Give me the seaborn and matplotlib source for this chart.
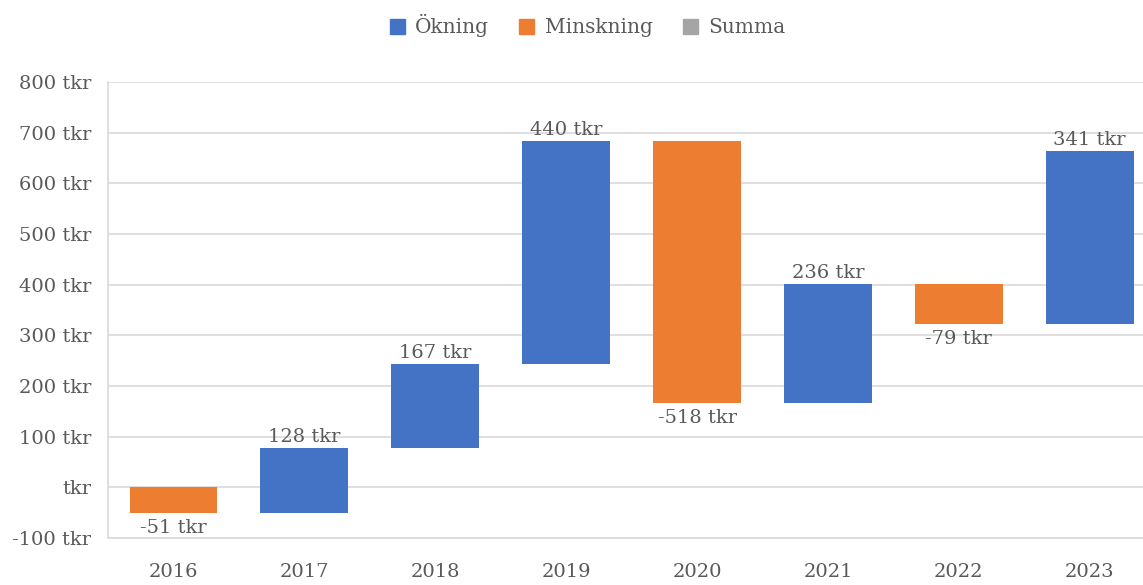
import numpy as np
import pandas as pd
import seaborn as sns
import matplotlib
matplotlib.use("Agg")
import matplotlib.pyplot as plt
from matplotlib.patches import Patch

years = ["2016", "2017", "2018", "2019", "2020", "2021", "2022", "2023"]
changes = [-51, 128, 167, 440, -518, 236, -79, 341]
y_ticks = [-100, 0, 100, 200, 300, 400, 500, 600, 700, 800]
legend_names = ["Ökning", "Minskning", "Summa"]
colors = ["#4472c4", "#ed7d31", "#a5a5a5"]

ends = np.cumsum(changes)
starts = ends - np.array(changes)
df = pd.DataFrame({"year": years, "change": changes, "start": starts, "end": ends})
df["typ"] = np.where(df.change >= 0, "up", "down")

sns.set_theme(style="white")
plt.rcParams["font.family"] = ["DejaVu Serif"]
txt = "#595959"
fs = 14

fig = plt.figure(figsize=(11.43, 5.85), dpi=100)
ax = fig.add_axes([108 / 1143, 47 / 585, 1035 / 1143, 456 / 585])

for typ, col in [("up", colors[0]), ("down", colors[1])]:
    sub = df[df.typ == typ]
    sns.barplot(x=sub.year, y=sub.change, bottom=sub.start.values, order=years,
                color=col, width=0.67, ax=ax, saturation=1, zorder=3, linewidth=0)

# labels: above the bar top for increases, below the bar for decreases
for i, r in df.iterrows():
    lab = f"{r.change} tkr"
    if r.change >= 0:
        ax.text(i, r.end + 4, lab, ha="center", va="bottom", color=txt, fontsize=fs)
    else:
        ax.text(i, r.end - 12, lab, ha="center", va="top", color=txt, fontsize=fs)

ax.set_xlim(-0.5, -0.5 + 1035 / 130.9)
ax.set_ylim(-100, 800)
ax.set_yticks(y_ticks)
ax.set_yticklabels([f"{v} tkr" if v != 0 else "tkr" for v in y_ticks])
ax.grid(axis="y", color="#d9d9d9", linewidth=1.2, zorder=0)
ax.set_axisbelow(True)
ax.set_xlabel("")
ax.set_ylabel("")
ax.tick_params(axis="both", length=0, colors=txt, labelsize=fs)
ax.tick_params(axis="y", pad=12)
ax.tick_params(axis="x", pad=18)
for s in ["top", "right"]:
    ax.spines[s].set_visible(False)
ax.spines["left"].set_color("#d9d9d9")
ax.spines["bottom"].set_color("#d9d9d9")
ax.spines["left"].set_linewidth(1.2)
ax.spines["bottom"].set_linewidth(1.2)

handles = [Patch(color=c, label=n) for n, c in zip(legend_names, colors)]
fig.legend(handles=handles, loc="upper center", bbox_to_anchor=(0.514, 1.0), ncol=3,
           frameon=False, fontsize=fs + 0.5, handlelength=0.75, handleheight=0.75,
           columnspacing=1.5, handletextpad=0.5, labelcolor=txt, borderaxespad=0.3)

fig.savefig("out.png", dpi=100)
